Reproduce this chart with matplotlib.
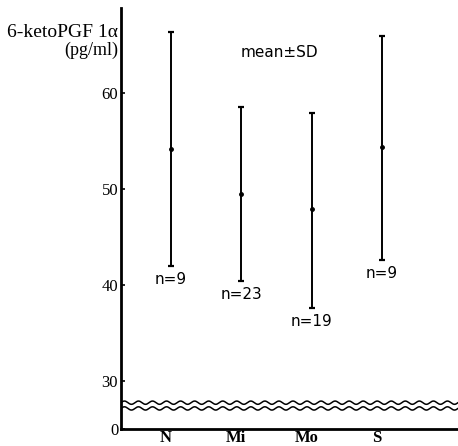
"""6-keto-PGF1a by group, mean +/- SD, with a broken y axis below 30."""
import matplotlib
matplotlib.use("Agg")
import matplotlib.pyplot as plt
import numpy as np

groups = ["N", "Mi", "Mo", "S"]
means = [54.2, 49.5, 47.9, 54.4]
upper = [66.4, 58.6, 58.0, 66.0]
lower = [42.0, 40.4, 37.6, 42.6]
n_labels = ["n=9", "n=23", "n=19", "n=9"]

ytick_pos = [25, 30, 40, 50, 60]
ytick_lab = ["0", "30", "40", "50", "60"]

serif = ["Liberation Serif", "DejaVu Serif"]

fig = plt.figure(figsize=(4.58, 4.46), dpi=100)
ax = fig.add_axes([0.264, 0.038, 0.736, 0.944])

x = np.arange(len(groups))
means = np.array(means); upper = np.array(upper); lower = np.array(lower)
ax.errorbar(x, means, yerr=[means - lower, upper - means], fmt="o",
            color="black", ms=2.5, elinewidth=1.4, capsize=2.5, capthick=1.6)

for xi, lo, lab in zip(x, lower, n_labels):
    ax.annotate(lab, (xi, lo), xytext=(0, -4), textcoords="offset points",
                ha="center", va="top", fontsize=11, family="DejaVu Sans")

ax.text(1.54, 64.3, "mean±SD", ha="center", va="center", fontsize=11,
        family="DejaVu Sans")

# wavy break marks
xs = np.linspace(0, 1, 400)
wave = 0.17 * np.sin(xs * 2 * np.pi * 24)
for base in (27.75, 27.15):
    ax.plot(xs, base + wave, color="black", lw=1.1,
            transform=ax.get_yaxis_transform())

ax.set_xlim(-0.71, 4.08)
ax.set_ylim(25, 68.9)
ax.set_yticks(ytick_pos)
ax.set_yticklabels(ytick_lab, family=serif, fontsize=12)
ax.set_xticks(x - 0.07)
ax.set_xticklabels(groups, family=serif, fontsize=12, fontweight="bold")
ax.tick_params(axis="y", direction="in", length=3, width=1.2, pad=2)
ax.tick_params(axis="x", length=0, pad=1)
for s in ("top", "right"):
    ax.spines[s].set_visible(False)
ax.spines["left"].set_linewidth(2)
ax.spines["bottom"].set_linewidth(2)

fig.text(0.258, 0.928, "6-ketoPGF 1α", ha="right", va="center",
         family=serif, fontsize=14)
fig.text(0.258, 0.888, "(pg/ml)", ha="right", va="center",
         family=serif, fontsize=13)

fig.savefig("out.png", dpi=100)
